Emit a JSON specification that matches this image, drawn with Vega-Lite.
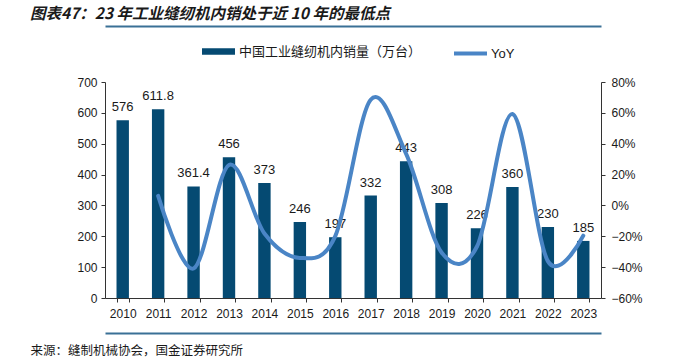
{
  "$schema": "https://vega.github.io/schema/vega-lite/v6.json",
  "width": 496,
  "height": 216,
  "autosize": {"type": "none"},
  "padding": {"left": 105, "top": 82, "right": 76, "bottom": 61},
  "background": "white",
  "config": {
    "view": {"stroke": null},
    "font": "Liberation Sans",
    "axis": {"grid": false, "labelFont": "Liberation Sans", "labelFontSize": 12, "labelColor": "#1a1a1a", "domainColor": "#333333", "tickColor": "#333333", "tickSize": 4}
  },
  "title": {
    "text": "图表47：23 年工业缝纫机内销处于近 10 年的最低点",
    "anchor": "start",
    "frame": "group",
    "dx": -75,
    "font": "Noto Sans CJK SC",
    "fontSize": 15.5,
    "fontWeight": "bold",
    "fontStyle": "italic",
    "color": "#1a1a1a"
  },
  "data": {
    "values": [
      {"year": "2010", "sales": 576, "yoy": null},
      {"year": "2011", "sales": 611.8, "yoy": 0.062},
      {"year": "2012", "sales": 361.4, "yoy": -0.409},
      {"year": "2013", "sales": 456, "yoy": 0.262},
      {"year": "2014", "sales": 373, "yoy": -0.182},
      {"year": "2015", "sales": 246, "yoy": -0.340},
      {"year": "2016", "sales": 197, "yoy": -0.199},
      {"year": "2017", "sales": 332, "yoy": 0.685},
      {"year": "2018", "sales": 443, "yoy": 0.334},
      {"year": "2019", "sales": 308, "yoy": -0.305},
      {"year": "2020", "sales": 226, "yoy": -0.266},
      {"year": "2021", "sales": 360, "yoy": 0.593},
      {"year": "2022", "sales": 230, "yoy": -0.361},
      {"year": "2023", "sales": 185, "yoy": -0.196}
    ]
  },
  "layer": [
    {
      "mark": {"type": "bar", "color": "#054a72"},
      "encoding": {
        "x": {
          "field": "year", "type": "nominal",
          "scale": {"type": "band", "paddingInner": 0.65, "paddingOuter": 0.325},
          "axis": {
            "orient": "bottom", "labelAngle": 0, "tickBand": "extent", "labelPadding": 6,
            "title": "来源：缝制机械协会，国金证券研究所",
            "titleFont": "Noto Sans CJK SC", "titleFontSize": 12.5, "titleFontWeight": "normal", "titleColor": "#1a1a1a",
            "titleAnchor": "start", "titleAlign": "left", "titleBaseline": "middle", "titleX": -75, "titleY": 52
          }
        },
        "y": {
          "field": "sales", "type": "quantitative",
          "scale": {"domain": [0, 700], "nice": false},
          "axis": {"orient": "left", "values": [0, 100, 200, 300, 400, 500, 600, 700], "title": null, "labelPadding": 4}
        },
        "color": {
          "datum": "中国工业缝纫机内销量（万台）",
          "scale": {"range": ["#054a72"]},
          "legend": {
            "orient": "none", "legendX": 97, "legendY": -47, "title": null,
            "symbolType": "M-1,-0.2H1V0.2H-1Z", "symbolSize": 1089, "symbolStrokeWidth": 0,
            "labelFont": "Noto Sans CJK SC", "labelFontSize": 13, "labelColor": "#1a1a1a", "labelOffset": 4, "labelLimit": 400
          }
        }
      }
    },
    {
      "mark": {"type": "text", "baseline": "alphabetic", "dy": -9, "fontSize": 13, "font": "Liberation Sans", "color": "#1a1a1a"},
      "encoding": {
        "x": {
          "field": "year", "type": "nominal",
          "axis": {"orient": "top", "offset": 56, "labels": false, "ticks": false, "title": null, "domainColor": "#3a7096", "domainWidth": 2}
        },
        "y": {"field": "sales", "type": "quantitative", "scale": {"domain": [0, 700], "nice": false}, "axis": null},
        "text": {"field": "sales", "type": "nominal"}
      }
    },
    {
      "mark": {"type": "line", "interpolate": "cardinal", "strokeWidth": 4, "strokeCap": "round"},
      "encoding": {
        "x": {
          "field": "year", "type": "nominal",
          "axis": {"orient": "bottom", "offset": 35, "labels": false, "ticks": false, "title": null, "domainColor": "#3a7096", "domainWidth": 2}
        },
        "y": {
          "field": "yoy", "type": "quantitative",
          "scale": {"domain": [-0.6, 0.8], "nice": false},
          "axis": {"orient": "right", "values": [-0.6, -0.4, -0.2, 0, 0.2, 0.4, 0.6, 0.8], "format": ".0%", "title": null, "labelPadding": 6}
        },
        "stroke": {
          "datum": "YoY",
          "scale": {"range": ["#4a85c6"]},
          "legend": {
            "orient": "none", "legendX": 347, "legendY": -47, "title": null,
            "symbolType": "stroke", "symbolSize": 1089, "symbolStrokeWidth": 4,
            "labelFont": "Liberation Sans", "labelFontSize": 13, "labelColor": "#1a1a1a", "labelOffset": 2, "labelLimit": 200
          }
        }
      }
    }
  ],
  "resolve": {"scale": {"y": "independent", "color": "independent"}, "axis": {"x": "independent"}}
}
